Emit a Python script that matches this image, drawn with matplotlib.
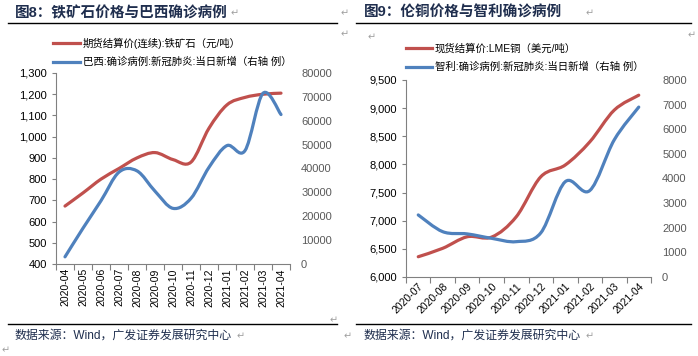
import numpy as np
import matplotlib
matplotlib.use("Agg")
import matplotlib.pyplot as plt
from matplotlib.path import Path
from matplotlib.patches import PathPatch
from matplotlib.lines import Line2D
from matplotlib.ticker import FuncFormatter

plt.rcParams['font.family'] = ['Liberation Sans', 'Noto Sans CJK SC', 'DejaVu Sans']

# left panel: iron ore vs Brazil cases
months_l = ['2020-04', '2020-05', '2020-06', '2020-07', '2020-08', '2020-09', '2020-10',
            '2020-11', '2020-12', '2021-01', '2021-02', '2021-03', '2021-04']
iron_ore = [673, 735, 800, 850, 900, 925, 892, 880, 1040, 1150, 1185, 1200, 1205]
brazil_cases = [3000, 15000, 26500, 38500, 39000, 30500, 23300, 27500, 40500, 49600, 47500, 71500, 62600]

# right panel: LME copper vs Chile cases
months_r = ['2020-07', '2020-08', '2020-09', '2020-10', '2020-11', '2020-12',
            '2021-01', '2021-02', '2021-03', '2021-04']
copper = [6360, 6510, 6715, 6710, 7070, 7780, 7990, 8400, 8965, 9230]
chile_cases = [2520, 1840, 1750, 1570, 1435, 1790, 3870, 3510, 5570, 6900]

RED = '#C0504D'
BLUE = '#4F81BD'
SPINE = '#808080'
NAVY = '#1F2E4E'

W, H = 698, 356
fx = lambda px: px / W
fy = lambda py: 1 - py / H


def smooth_path(x, y):
    # excel-style smoothed line drawn as cubic bezier segments
    x = np.asarray(x, float)
    y = np.asarray(y, float)
    n = len(x)
    verts = [(x[0], y[0])]
    codes = [Path.MOVETO]
    for i in range(n - 1):
        i0 = max(i - 1, 0)
        i3 = min(i + 2, n - 1)
        c1 = (x[i] + (x[i + 1] - x[i0]) / 6, y[i] + (y[i + 1] - y[i0]) / 6)
        c2 = (x[i + 1] - (x[i3] - x[i]) / 6, y[i + 1] - (y[i3] - y[i]) / 6)
        verts += [c1, c2, (x[i + 1], y[i + 1])]
        codes += [Path.CURVE4] * 3
    return Path(verts, codes)


def draw_panel(rect, months, left_vals, right_vals, ylim_l, yticks_l, ylim_r, yticks_r, rot):
    ax = fig.add_axes(rect)
    ax2 = ax.twinx()
    n = len(months)
    xs = np.arange(n)
    ax.add_patch(PathPatch(smooth_path(xs, left_vals), fc='none', ec=RED, lw=2.3, capstyle='round'))
    ax2.add_patch(PathPatch(smooth_path(xs, right_vals), fc='none', ec=BLUE, lw=2.3, capstyle='round'))
    ax.set_xlim(-0.5, n - 0.5)
    ax.set_ylim(*ylim_l)
    ax.set_yticks(yticks_l)
    ax.yaxis.set_major_formatter(FuncFormatter(lambda v, p: f'{int(v):,}'))
    ax2.set_ylim(*ylim_r)
    ax2.set_yticks(yticks_r)
    ax2.yaxis.set_major_formatter(FuncFormatter(lambda v, p: f'{int(v)}'))
    for a in (ax, ax2):
        a.patch.set_visible(False)
        for s in ('top', 'right', 'left', 'bottom'):
            a.spines[s].set_visible(False)
    ax.spines['left'].set_visible(True)
    ax.spines['bottom'].set_visible(True)
    ax.spines['left'].set_color(SPINE)
    ax.spines['bottom'].set_color(SPINE)
    ax.tick_params(axis='y', colors=SPINE, labelcolor='black', labelsize=8, length=3, width=0.8)
    ax2.tick_params(axis='y', length=0, labelcolor='#595959', labelsize=8, pad=8)
    ax.set_xticks(xs)
    ax.set_xticks(np.arange(n + 1) - 0.5, minor=True)
    ax.tick_params(axis='x', which='major', length=0, labelsize=7.5, pad=3)
    ax.tick_params(axis='x', which='minor', length=4, color=SPINE, width=0.8)
    if rot == 90:
        ax.set_xticklabels(months, rotation=90)
    else:
        ax.set_xticklabels(months, rotation=45, ha='right', rotation_mode='anchor')
    return ax, ax2


fig = plt.figure(figsize=(6.98, 3.56), dpi=100)

draw_panel([fx(56), fy(264), fx(234), 191 / H], months_l, iron_ore, brazil_cases,
           (400, 1300), np.arange(400, 1301, 100), (0, 80000), np.arange(0, 80001, 10000), 90)
draw_panel([fx(406), fy(277), fx(245), 197 / H], months_r, copper, chile_cases,
           (6000, 9500), np.arange(6000, 9501, 500), (0, 8000), np.arange(0, 8001, 1000), 45)

# titles, rules, source notes
cjk = ['Liberation Sans', 'Noto Sans CJK SC', 'DejaVu Sans']
fig.text(fx(15), fy(13), '图8：铁矿石价格与巴西确诊病例', fontsize=10.5, fontweight='bold',
         color=NAVY, va='center', family=cjk)
fig.text(fx(364), fy(13), '图9：伦铜价格与智利确诊病例', fontsize=10.5, fontweight='bold',
         color=NAVY, va='center', family=cjk)
for x0, x1 in ((8, 337), (356, 691)):
    fig.add_artist(Line2D([fx(x0), fx(x1)], [fy(23), fy(23)], color='black', lw=1.0,
                          transform=fig.transFigure))
    fig.add_artist(Line2D([fx(x0), fx(x1)], [fy(324), fy(324)], color='black', lw=1.0,
                          transform=fig.transFigure))
fig.text(fx(15), fy(336), '数据来源：Wind，广发证券发展研究中心', fontsize=8.6, color=NAVY,
         va='center', family=cjk)
fig.text(fx(363), fy(336), '数据来源：Wind，广发证券发展研究中心', fontsize=8.6, color=NAVY,
         va='center', family=cjk)

# legends
legend_items = [
    (53, 80, 43, RED, '期货结算价(连续):铁矿石（元/吨）'),
    (53, 80, 62, BLUE, '巴西:确诊病例:新冠肺炎:当日新增（右轴 例）'),
    (406, 432, 48, RED, '现货结算价:LME铜（美元/吨）'),
    (406, 432, 67, BLUE, '智利:确诊病例:新冠肺炎:当日新增（右轴 例）'),
]
for x0, x1, yy, c, label in legend_items:
    fig.add_artist(Line2D([fx(x0), fx(x1)], [fy(yy), fy(yy)], color=c, lw=2.3,
                          transform=fig.transFigure))
    fig.text(fx(x1 + 3), fy(yy), label, fontsize=7.5, va='center', family=cjk)

# word paragraph marks
marks = [(231, 13), (341, 13), (341, 34), (586, 13), (368, 37), (688, 35),
         (237, 336), (330, 320), (344, 336), (586, 336), (2, 350)]
for mx, my in marks:
    fig.text(fx(mx), fy(my), '↵', fontsize=7, color='#A0A0A0', va='center', family=['DejaVu Sans'])

fig.savefig('out.png', dpi=100)
